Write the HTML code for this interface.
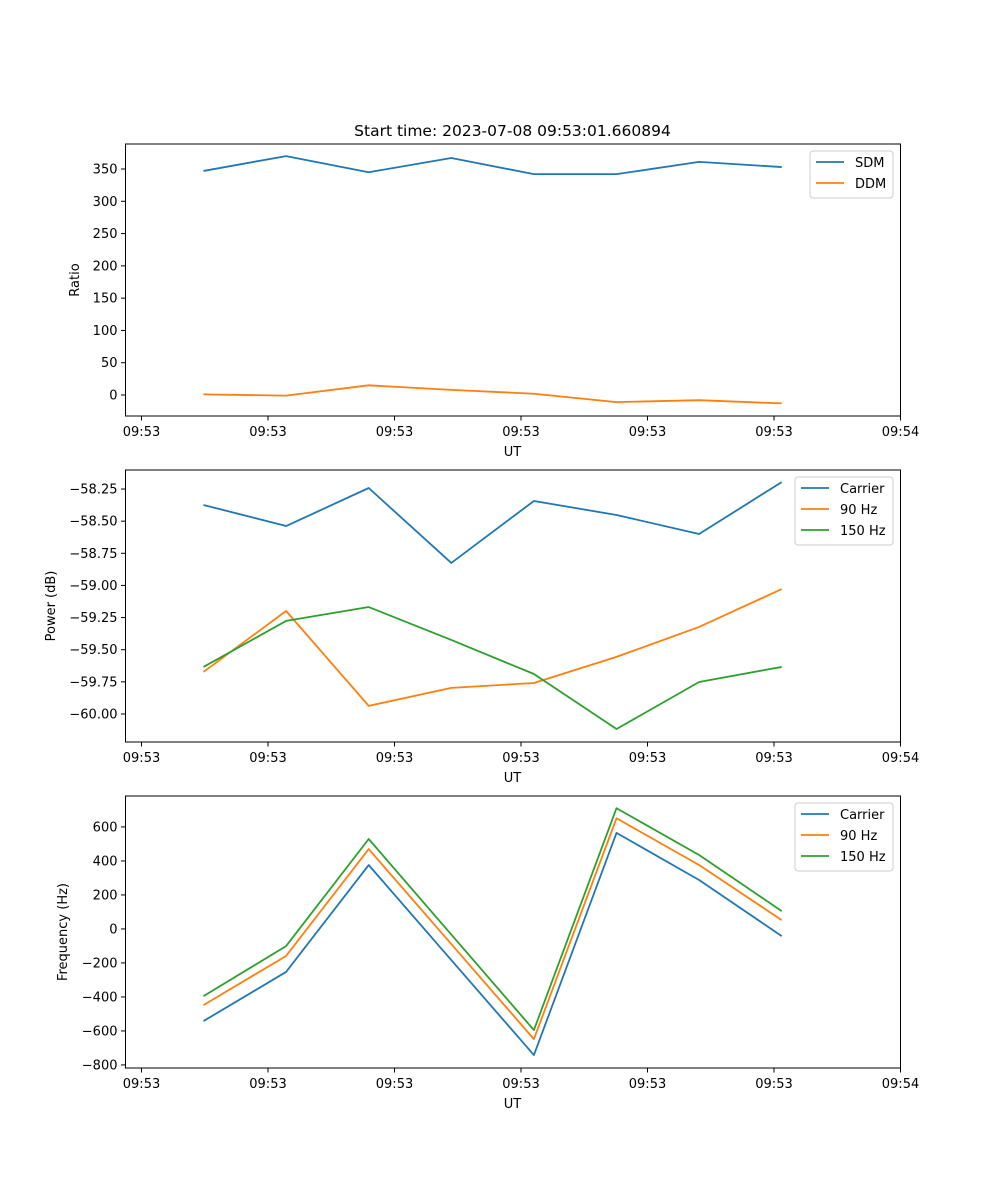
<!DOCTYPE html>
<html><head><meta charset="utf-8"><style>
body{margin:0;background:#fff}
svg{font-family:"DejaVu Sans","Liberation Sans",sans-serif;display:block}
</style></head><body>
<svg id="fig" width="1000" height="1200" xmlns="http://www.w3.org/2000/svg">
<text x="512.5" y="136" font-size="15.5" text-anchor="middle">Start time: 2023-07-08 09:53:01.660894</text>
</svg>
<script>
// data (seconds from first tick)
const times = [4.9, 11.43, 17.96, 24.49, 31.02, 37.55, 44.08, 50.61];
const xTickVals = [0, 10, 20, 30, 40, 50, 60];
const xTickLabels = ["09:53","09:53","09:53","09:53","09:53","09:53","09:54"];
const sdm = [347, 370, 345, 367, 342, 342, 361, 353];
const ddm = [1, -1, 15, 8, 2, -11, -8, -13];
const powCarrier = [-58.374, -58.538, -58.242, -58.825, -58.343, -58.452, -58.600, -58.196];
const pow90 = [-59.673, -59.199, -59.937, -59.797, -59.759, -59.556, -59.323, -59.028];
const pow150 = [-59.634, -59.276, -59.168, -59.424, -59.689, -60.117, -59.751, -59.634];
const freqCarrier = [-542, -253, 376, -183, -742, 565, 288, -42];
const freq90 = [-448, -159, 470, -89, -648, 651, 376, 52];
const freq150 = [-395, -101, 529, -33, -595, 710, 435, 105];
const ratioTicks = [0, 50, 100, 150, 200, 250, 300, 350];
const powTicks = [-60.00, -59.75, -59.50, -59.25, -59.00, -58.75, -58.50, -58.25];
const powTickLabels = ["\u221260.00","\u221259.75","\u221259.50","\u221259.25","\u221259.00","\u221258.75","\u221258.50","\u221258.25"];
const freqTicks = [-800, -600, -400, -200, 0, 200, 400, 600];

const NS="http://www.w3.org/2000/svg";
const svg=document.getElementById('fig');
const C={b:'#1f77b4',o:'#ff7f0e',g:'#2ca02c'};
function mk(tag,attrs,parent){const e=document.createElementNS(NS,tag);for(const k in attrs)e.setAttribute(k,attrs[k]);(parent||svg).appendChild(e);return e;}
const L=125.5,R=900.5;
const xd=[-1.265,60];
function xs(t){return L+(t-xd[0])/(xd[1]-xd[0])*(R-L);}

function panel(name,top,bot,yd,yt,ytl,ylabel,ylx,series,legend){
  const g=mk('g',{});
  
  
  const ys=v=>bot-(v-yd[0])/(yd[1]-yd[0])*(bot-top);
  series.forEach(s=>{
    const p=mk('polyline',{points:s.vals.map((v,i)=>xs(times[i]).toFixed(2)+','+ys(v).toFixed(2)).join(' '),fill:'none',stroke:s.c,'stroke-width':1.8,'stroke-linejoin':'round'},g);
    
    
  });
  const fr=mk('rect',{x:L,y:top,width:R-L,height:bot-top,fill:'none',stroke:'#000','stroke-width':1},g);
  
  
  xTickVals.forEach((t,i)=>{
    const x=xs(t);
    mk('line',{x1:x,x2:x,y1:bot,y2:bot+4.5,stroke:'#000'},g);
    const tx=mk('text',{x:x,y:bot+20,'font-size':13,'text-anchor':'middle'},g);
    tx.textContent=xTickLabels[i];
    
    
  });
  yt.forEach((v,i)=>{
    const y=ys(v);
    mk('line',{x1:L,x2:L-4.5,y1:y,y2:y,stroke:'#000'},g);
    const tx=mk('text',{x:L-8,y:y+4.5,'font-size':13,'text-anchor':'end'},g);
    tx.textContent=ytl[i];
    
    
  });
  const xl=mk('text',{x:512.5,y:bot+40,'font-size':13,'text-anchor':'middle'},g);
  xl.textContent='UT';
  
  
  const yl=mk('text',{x:ylx,y:(top+bot)/2,'font-size':13,'text-anchor':'middle',transform:`rotate(-90 ${ylx} ${(top+bot)/2})`},g);
  yl.textContent=ylabel;
  
  
  const lg=mk('g',{},g);
  
  
  const h=series.length*21+5;
  mk('rect',{x:legend.x,y:top+7,width:893-legend.x,height:h,rx:3,fill:'#fff',stroke:'#ccc'},lg);
  series.forEach((s,i)=>{
    const y=top+18+i*21;
    mk('line',{x1:legend.x+6,x2:legend.x+34,y1:y,y2:y,stroke:s.c,'stroke-width':1.8},lg);
    const t=mk('text',{x:legend.x+45,y:y+5,'font-size':13},lg);
    t.textContent=s.label;
    
    
  });
}
panel('ratio',144,416,[-32.5,388.7],ratioTicks,ratioTicks.map(String),'Ratio',79,
 [{id:'sdm',label:'SDM',vals:sdm,c:C.b},{id:'ddm',label:'DDM',vals:ddm,c:C.o}],{x:810});
panel('power',470,742,[-60.218,-58.102],powTicks,powTickLabels,'Power (dB)',55,
 [{id:'carrier',label:'Carrier',vals:powCarrier,c:C.b},{id:'90hz',label:'90 Hz',vals:pow90,c:C.o},{id:'150hz',label:'150 Hz',vals:pow150,c:C.g}],{x:795});
panel('frequency',796,1068,[-818,782],freqTicks,freqTicks.map(v=>v<0?'\u2212'+(-v):String(v)),'Frequency (Hz)',67,
 [{id:'carrier',label:'Carrier',vals:freqCarrier,c:C.b},{id:'90hz',label:'90 Hz',vals:freq90,c:C.o},{id:'150hz',label:'150 Hz',vals:freq150,c:C.g}],{x:795});
</script>
</body></html>
